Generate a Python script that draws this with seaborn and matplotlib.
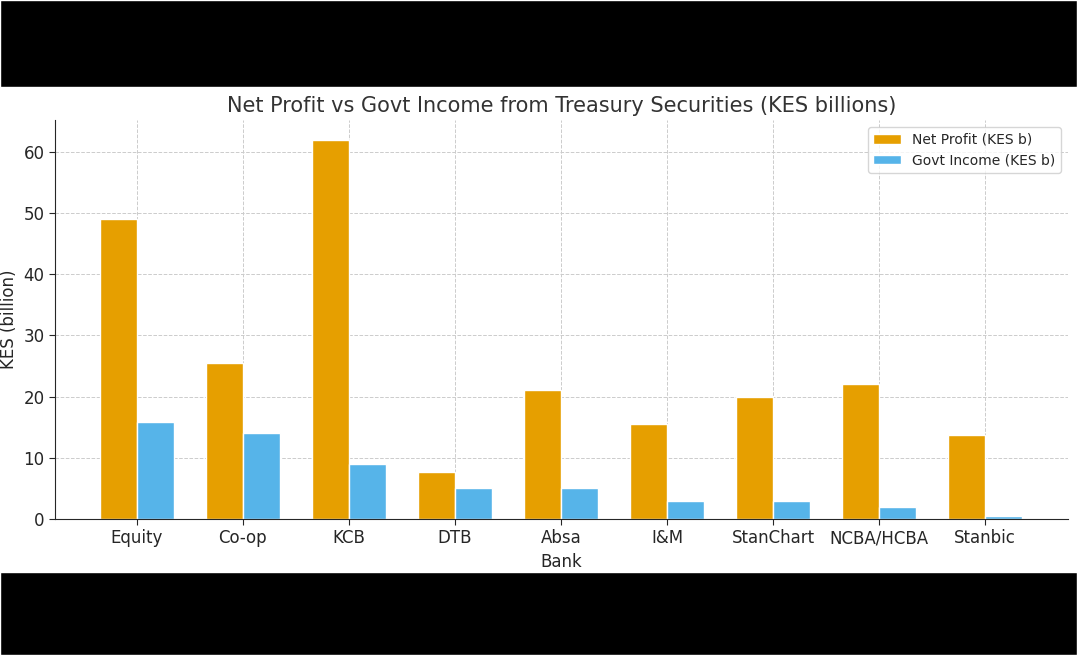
import matplotlib
matplotlib.use("Agg")
import matplotlib.pyplot as plt
import seaborn as sns
import pandas as pd
from matplotlib.patches import Rectangle

banks = ["Equity", "Co-op", "KCB", "DTB", "Absa", "I&M", "StanChart", "NCBA/HCBA", "Stanbic"]
net_profit = [49, 25.5, 62, 7.7, 21, 15.5, 20, 22, 13.7]
govt_income = [15.8, 14, 9, 5, 5, 3, 3, 2, 0.5]

df = pd.DataFrame({
    "Bank": banks * 2,
    "Value": net_profit + govt_income,
    "Series": ["Net Profit (KES b)"] * len(banks) + ["Govt Income (KES b)"] * len(banks),
})

sns.set_style("white")
fig = plt.figure(figsize=(10.77, 6.55), dpi=100, facecolor="white")
fig.patches.append(Rectangle((0, 1 - 87 / 655), 1, 87 / 655,
                             transform=fig.transFigure, facecolor="black", zorder=-10))
fig.patches.append(Rectangle((0, 0), 1, (655 - 572) / 655,
                             transform=fig.transFigure, facecolor="black", zorder=-10))
ax = fig.add_axes([55 / 1077, 1 - 519 / 655, (1068 - 55) / 1077, (519 - 120) / 655])
sns.barplot(data=df, x="Bank", y="Value", hue="Series", width=0.7,
            palette=["#E69F00", "#56B4E9"], ax=ax, saturation=1)
ax.set_xlim(-0.77, 8.78)
ax.set_ylim(0, 65.2)
ax.grid(True, linestyle="--", color="#cccccc", linewidth=0.7)
ax.set_axisbelow(True)
for s in ["top", "right"]:
    ax.spines[s].set_visible(False)
ax.tick_params(labelsize=12, left=True, bottom=True, length=4)
ax.set_xlabel("Bank", fontsize=12)
ax.set_ylabel("KES (billion)", fontsize=12)
ax.set_title("Net Profit vs Govt Income from Treasury Securities (KES billions)", fontsize=15, color="#333333", pad=6)
ax.legend(title=None, loc="upper right", fontsize=10)
fig.savefig("out.png", dpi=100, facecolor="white")
